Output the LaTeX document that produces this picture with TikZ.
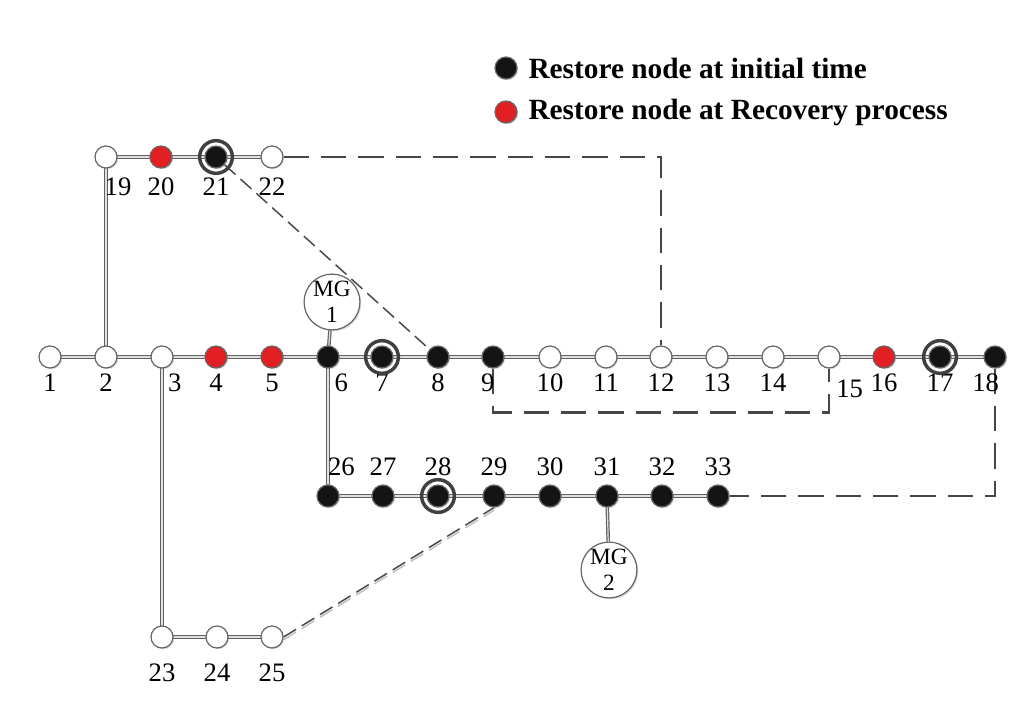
\documentclass[tikz,border=0pt]{standalone}
\usepackage{fontspec}
\setmainfont{Liberation Serif}
\usetikzlibrary{positioning,backgrounds,shadows}
\definecolor{busred}{RGB}{226,32,36}

\tikzset{
  bus/.style={circle, draw=black!60, line width=0.9pt, minimum size=16.5pt, inner sep=0pt,
    drop shadow={opacity=0.3, shadow xshift=0.9pt, shadow yshift=-0.9pt}},
  openbus/.style={bus, fill=white},
  blackbus/.style={bus, fill=black!92},
  redbus/.style={bus, fill=busred},
  ringbus/.style={circle, draw=black!75, line width=2.6pt, minimum size=24.5pt, inner sep=0pt},
  mgnode/.style={circle, draw=black!60, line width=0.9pt, fill=white, inner sep=0pt, align=center,
    font=\fontsize{17.5}{19.5}\selectfont,
    drop shadow={opacity=0.3, shadow xshift=1pt, shadow yshift=-1pt}},
  feeder/.style={draw=black!62, line width=0.9pt, double=black!12, double distance=0.9pt},
  tie/.style={draw=black!72, line width=2.2pt, dash pattern=on 19pt off 9pt},
  thintie/.style={draw=black!72, line width=1.1pt, dash pattern=on 11pt off 5pt},
  legtext/.style={font=\fontsize{22}{24}\selectfont\bfseries, inner sep=0pt}
}

\begin{document}
\begin{tikzpicture}[x=0.75pt, y=-0.75pt,
    every label/.style={font=\fontsize{20}{22}\selectfont, inner sep=0pt},
    label distance=4pt]
    \useasboundingbox (0,0) rectangle (1034,702);

    % Legend
    \node[blackbus] (lg1) at (506,68) {};
    \node[legtext, right=8pt of lg1] (lgt1) {Restore node at initial time};
    \node[redbus] (lg2) at (506,112) {};
    \node[legtext, right=8pt of lg2] (lgt2) {Restore node at Recovery process};

    % Main feeder 1-18
    \node[openbus, label=below:1] (n1) at (50,357) {};
    \node[openbus, label=below:2] (n2) at (106,357) {};
    \node[openbus, label={[xshift=9.5pt]below:3}] (n3) at (162,357) {};
    \node[redbus, label=below:4] (n4) at (216,357) {};
    \node[redbus, label=below:5] (n5) at (272,357) {};
    \node[blackbus, label={[xshift=10pt]below:6}] (n6) at (328,357) {};
    \node[blackbus, label=below:7] (n7) at (382,357) {};
    \node[blackbus, label=below:8] (n8) at (438,357) {};
    \node[blackbus, label={[xshift=-4pt]below:9}] (n9) at (493,357) {};
    \node[openbus, label=below:10] (n10) at (550,357) {};
    \node[openbus, label=below:11] (n11) at (606,357) {};
    \node[openbus, label=below:12] (n12) at (661,357) {};
    \node[openbus, label=below:13] (n13) at (717,357) {};
    \node[openbus, label=below:14] (n14) at (773,357) {};
    \node[openbus, label={[xshift=15.5pt, label distance=8.5pt]below:15}] (n15) at (829,357) {};
    \node[redbus, label=below:16] (n16) at (884,357) {};
    \node[blackbus, label=below:17] (n17) at (940,357) {};
    \node[blackbus, label={[xshift=-7pt]below:18}] (n18) at (995,357) {};

    % Lateral 19-22
    \begin{scope}[label distance=7pt]
    \node[openbus, label={[xshift=9pt]below:19}] (n19) at (106,157) {};
    \node[redbus, label=below:20] (n20) at (161,157) {};
    \node[blackbus, label=below:21] (n21) at (216,157) {};
    \node[openbus, label=below:22] (n22) at (272,157) {};
    \end{scope}

    % Lateral 23-25
    \begin{scope}[label distance=11.5pt]
    \node[openbus, label=below:23] (n23) at (162,637) {};
    \node[openbus, label=below:24] (n24) at (217,637) {};
    \node[openbus, label=below:25] (n25) at (272,637) {};
    \end{scope}

    % Lateral 26-33
    \begin{scope}[label distance=6.3pt]
    \node[blackbus, label={[xshift=10pt]above:26}] (n26) at (328,496) {};
    \node[blackbus, label=above:27] (n27) at (383,496) {};
    \node[blackbus, label=above:28] (n28) at (438,496) {};
    \node[blackbus, label=above:29] (n29) at (494,496) {};
    \node[blackbus, label=above:30] (n30) at (550,496) {};
    \node[blackbus, label=above:31] (n31) at (607,496) {};
    \node[blackbus, label=above:32] (n32) at (662,496) {};
    \node[blackbus, label=above:33] (n33) at (718,496) {};
    \end{scope}

    % Rings
    \node[ringbus] (r21) at (n21) {};
    \node[ringbus] (r7) at (n7) {};
    \node[ringbus] (r17) at (n17) {};
    \node[ringbus] (r28) at (n28) {};

    % Microgrids
    \node[mgnode, minimum size=38pt] (mg1) at (332,302) {MG\\1};
    \node[mgnode, minimum size=41pt] (mg2) at (609,570) {MG\\2};

    \begin{scope}[on background layer]
    % Feeders
    \draw[feeder] (n1.center) -- (n18.center);
    \draw[feeder] (n19.center) -- (n22.center);
    \draw[feeder] (n23.center) -- (n25.center);
    \draw[feeder] (n26.center) -- (n33.center);
    \draw[feeder] (n2.center) -- (n19.center);
    \draw[feeder] (n3.center) -- (n23.center);
    \draw[feeder] (n6.center) -- (n26.center);
    \draw[feeder] (n6.center) -- (mg1);
    \draw[feeder] (n31.center) -- (mg2);

    % Tie switches
    \draw[tie] (n22) -| (n12);
    \draw[tie] (n9.south) -- ++(0,44) -| (n15.south);
    \draw[tie] (n18) |- (n33);
    \draw[thintie] (n21) -- (n8);
    \draw[thintie, draw=black!25] ([yshift=-2pt]n25.east) -- ([yshift=-2pt]n29.south);
    \draw[thintie] (n25.east) -- (n29.south);
    \end{scope}
\end{tikzpicture}
\end{document}
